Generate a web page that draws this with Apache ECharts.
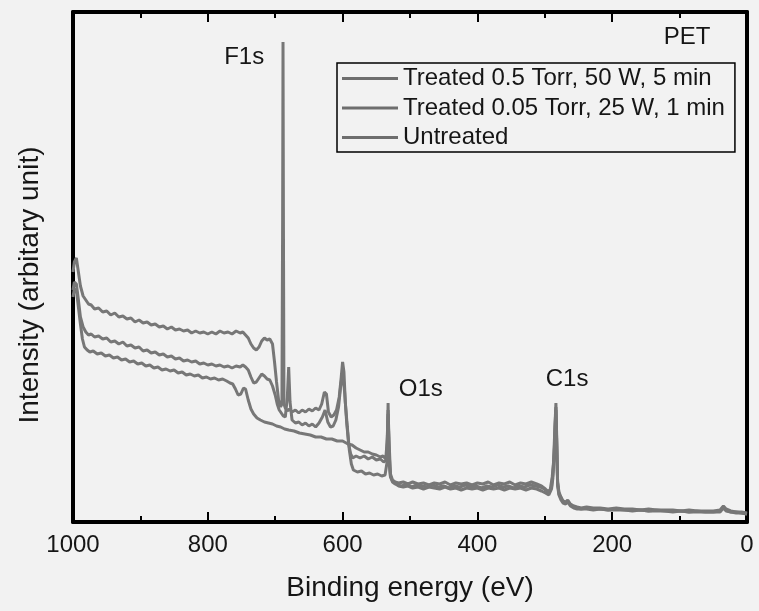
<!DOCTYPE html>
<html><head><meta charset="utf-8">
<script src="https://cdn.jsdelivr.net/npm/echarts@6/dist/echarts.min.js"></script>
<style>html,body{margin:0;padding:0;background:#f2f2f2}#c{width:759px;height:611px}</style>
</head><body><div id="c"></div><script>
// Series names (legend order)
const seriesNames = ['Treated 0.5 Torr, 50 W, 5 min', 'Treated 0.05 Torr, 25 W, 1 min', 'Untreated'];

// [binding energy (eV), intensity (arb.)]
const treated05 = [
[1000,250],[998,260],[995,264],[992,250],[989,236],[985,226],[981,222],[977,218],[973,217],[968,213],[962,214],[956,210],[950,211],[944,207],[938,209],[932,205],[926,206],[920,203],[914,204],[908,200],[902,202],[896,199],[890,200],[884,197],[878,198],[872,195],[866,196],[860,193],[854,195],[848,192],[842,193],[836,191],[830,192],[824,189],[818,191],[812,189],[806,190],[800,188],[794,190],[788,188],[782,191],[776,189],[770,190],[764,188],[758,191],[752,189],[748,190],[744,187],[740,184],[736,178],[732,174],[728,172],[724,175],[720,181],[716,184],[712,182],[708,183],[704,178],[701,160],[698,140],[695,122],[692,115],[690,118],[689,300],[688.4,480],[687.8,300],[687,118],[685,114],[682,111],[679,113],[675,110],[670,112],[665,109],[660,112],[655,110],[650,113],[645,111],[640,114],[635,112],[631,118],[627,130],[624,128],[621,110],[617,105],[613,107],[609,112],[605,125],[602,145],[600,160],[598,150],[596,120],[593,95],[590,72],[587,58],[584,52],[578,50],[572,51],[566,48],[560,49],[554,47],[548,48],[542,46],[537,47],[534,60],[532.5,119],[531,60],[529,45],[526,40],[522,38],
[519,37],[512,36],[505,38],[498,35],[490,37],[482,36],[474,35],[466,37],[458,35],[450,36],[442,34],[434,36],[426,35],[418,37],[410,35],[402,36],[394,34],[386,36],[378,35],[370,37],[362,35],[354,36],[346,34],[338,36],[330,35],[322,37],[314,36],[307,35],[301,33],[296,30],[292,32],[289,45],[287,60],[285,95],[283.5,119],[282.5,90],[281,40],[279,28],[276,24],[273,20],[269,19],[266,21],[262,17],[257,15],[252,14],[246,13],[238,14],[228,13],[218,13],[206,12],[194,13],[182,12],[170,12],[158,12],[146,11],[134,12],[122,11],[110,11],[98,11],[86,10],[74,11],[62,10],[50,10],[40,11],[35,15],[31,12],[24,10],[16,10],[8,9],[0,8]
];

const treated005 = [
[1000,232],[998,240],[995,238],[992,222],[989,205],[985,195],[981,190],[977,187],[973,188],[968,185],[962,186],[956,183],[950,184],[944,180],[938,181],[932,178],[926,180],[920,176],[914,177],[908,174],[902,175],[896,171],[890,172],[884,169],[878,170],[872,167],[866,168],[860,165],[854,166],[848,163],[842,164],[836,161],[830,162],[824,160],[818,161],[812,158],[806,159],[800,157],[794,158],[788,156],[782,157],[776,155],[770,156],[764,154],[758,156],[752,155],[748,157],[744,155],[740,152],[736,145],[732,139],[728,140],[724,144],[720,148],[716,146],[712,143],[708,142],[704,136],[700,127],[697,118],[694,112],[691,109],[688,106],[685,105],[682,125],[680,155],[678,120],[675,102],[670,99],[665,100],[660,97],[655,99],[650,96],[645,98],[640,95],[635,99],[630,105],[626,112],[622,100],[618,95],[614,96],[610,102],[606,115],[603,135],[600,150],[597,130],[594,100],[591,78],[588,68],[585,64],[580,66],[574,64],[568,66],[562,63],[556,65],[550,62],[544,63],[539,60],[535,62],[533.5,85],[532.5,112],[531,80],[529,48],[526,42],[522,40],
[517,39],[510,40],[503,38],[496,40],[488,38],[480,39],[472,37],[464,39],[456,38],[448,40],[440,37],[432,39],[424,38],[416,39],[408,37],[400,39],[392,38],[384,40],[376,37],[368,39],[360,38],[352,40],[344,37],[336,39],[328,38],[320,40],[312,38],[305,36],[299,33],[294,30],[290,35],[288,48],[286,70],[284.5,100],[283.5,115],[282.5,85],[281,40],[279,30],[276,25],[273,21],[269,20],[266,22],[262,18],[257,16],[252,15],[246,14],[238,15],[228,14],[218,14],[206,13],[194,14],[182,13],[170,13],[158,12],[146,13],[134,12],[122,12],[110,12],[98,11],[86,12],[74,11],[62,11],[50,11],[40,12],[35,16],[31,13],[24,11],[16,10],[8,10],[0,9]
];

const untreated = [
[1000,225],[998,233],[995,232],[992,215],[989,198],[986,183],[983,175],[979,172],[975,170],[970,171],[964,168],[958,169],[952,166],[946,167],[940,164],[934,165],[928,162],[922,163],[916,160],[910,161],[904,158],[898,159],[892,156],[886,157],[880,154],[874,155],[868,152],[862,153],[856,151],[850,152],[844,149],[838,150],[832,147],[826,148],[820,146],[814,147],[808,144],[802,145],[796,143],[790,144],[784,142],[778,143],[772,141],[767,139],[763,138],[759,133],[755,127],[751,128],[747,134],[744,133],[740,122],[736,113],[732,108],[727,104],[722,102],[716,100],[710,99],[704,98],[698,96],[692,95],[686,93],[680,92],[672,91],[664,89],[656,88],[648,87],[640,85],[632,85],[624,83],[616,83],[608,81],[600,81],[592,78],[586,77],[580,74],[574,72],[568,70],[562,70],[556,68],[550,67],[544,65],[540,66],[536,63],[534,80],[532.5,108],[531,70],[529,46],[526,41],[522,39],
[517,36],[510,35],[503,36],[496,34],[488,35],[480,33],[472,35],[464,34],[456,33],[448,35],[440,33],[432,34],[424,32],[416,34],[408,33],[400,34],[392,32],[384,34],[376,33],[368,34],[360,32],[352,34],[344,33],[336,34],[328,32],[320,34],[312,33],[305,31],[299,29],[294,27],[290,33],[288,44],[286,68],[284.5,95],[283.5,112],[282.5,82],[281,36],[279,27],[276,22],[273,19],[269,18],[266,20],[262,16],[257,14],[252,13],[246,13],[238,13],[228,12],[218,13],[206,12],[194,12],[182,12],[170,11],[158,12],[146,11],[134,11],[122,11],[110,10],[98,11],[86,10],[74,10],[62,10],[50,10],[40,10],[35,14],[31,11],[24,10],[16,9],[8,9],[0,8]
];

// x tick labels
const xTicks = [1000, 800, 600, 400, 200, 0];
// peak annotations (text, energy, intensity)
const annotationText = ['F1s', 'O1s', 'C1s', 'PET'];
const annotationE = [746, 484, 267, 89];
const annotationI = [465, 133, 143, 485];

const FONT = 'Liberation Sans, Arial, sans-serif';
const LINE = '#777777';
const TEXT = '#161616';
const yMax = 510;

const chart = echarts.init(document.getElementById('c'), null, {renderer: 'canvas'});
const xMin = Math.min(...xTicks), xMax = Math.max(...xTicks);
const xInt = Math.abs(xTicks[0] - xTicks[1]);

const axisLineStyle = {color: '#000', width: 4};
const baseX = {
  type: 'value', min: xMin, max: xMax, interval: xInt, inverse: true,
  splitLine: {show: false},
  axisLine: {show: true, onZero: false, lineStyle: axisLineStyle},
  axisTick: {show: true, inside: true, length: 10, lineStyle: {color: '#000', width: 2}},
  minorTick: {show: true, splitNumber: 2, length: 6, lineStyle: {color: '#000', width: 2}},
  minorSplitLine: {show: false}
};

const dataSets = [treated05, treated005, untreated];
const series = dataSets.map((d, k) => ({
  name: seriesNames[k], type: 'line', data: d, symbol: 'none', showSymbol: false,
  lineStyle: {color: LINE, width: 3}, itemStyle: {color: LINE},
  xAxisIndex: 0, yAxisIndex: 0, silent: true, z: 3 - k
}));

chart.setOption({
  animation: false,
  backgroundColor: '#f2f2f2',
  textStyle: {fontFamily: FONT},
  grid: {left: 73, right: 12, top: 12, bottom: 89, containLabel: false},
  legend: {
    data: seriesNames, orient: 'vertical', left: 337, top: 63,
    icon: 'rect', itemWidth: 56, itemHeight: 3, itemGap: 4.5,
    padding: [3, 10, 2, 5], borderColor: '#000', borderWidth: 1.5,
    selectedMode: false,
    itemStyle: {color: '#6e6e6e'},
    textStyle: {fontFamily: FONT, fontSize: 24, color: TEXT, lineHeight: 25}
  },
  xAxis: [
    Object.assign({}, baseX, {
      position: 'bottom',
      name: 'Binding energy (eV)', nameLocation: 'middle', nameGap: 52,
      nameTextStyle: {fontFamily: FONT, fontSize: 28, color: TEXT},
      axisLabel: {show: true, fontFamily: FONT, fontSize: 24, color: TEXT, margin: 11,
                  showMinLabel: true, showMaxLabel: true, formatter: v => String(v)}
    }),
    Object.assign({}, baseX, {position: 'top', axisLabel: {show: false}})
  ],
  yAxis: [
    {type: 'value', min: 0, max: yMax, position: 'left',
     name: 'Intensity (arbitary unit)', nameLocation: 'middle', nameGap: 29,
     nameTextStyle: {fontFamily: FONT, fontSize: 28, color: TEXT, padding: [0, 36, 0, 0]},
     axisLine: {show: true, onZero: false, lineStyle: axisLineStyle},
     axisTick: {show: false}, axisLabel: {show: false}, splitLine: {show: false}},
    {type: 'value', min: 0, max: yMax, position: 'right',
     axisLine: {show: true, onZero: false, lineStyle: axisLineStyle},
     axisTick: {show: false}, axisLabel: {show: false}, splitLine: {show: false}}
  ],
  series: series
});

// annotation labels, placed through the grid's data coordinates
const graphics = annotationText.map((t, k) => {
  const p = chart.convertToPixel({gridIndex: 0}, [annotationE[k], annotationI[k]]);
  return {type: 'text', x: p[0], y: p[1], z: 100, silent: true,
    style: {text: t, fill: TEXT, font: '24px ' + FONT, align: 'center', verticalAlign: 'middle'}};
});
chart.setOption({graphic: graphics});
</script></body></html>
